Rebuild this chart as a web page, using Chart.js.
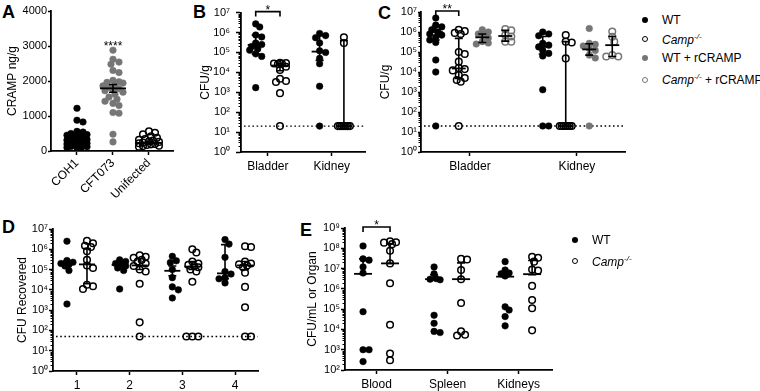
<!DOCTYPE html>
<html>
<head>
<meta charset="utf-8">
<script src="https://cdn.jsdelivr.net/npm/chart.js@4.4.0/dist/chart.umd.min.js"></script>
<style>
  body { margin: 0; background: #fff; width: 760px; height: 391px; position: relative; overflow: hidden;
         font-family: "Liberation Sans", Arial, Helvetica, sans-serif; color: #000; }
  canvas { position: absolute; }
  .letter { position: absolute; font-weight: bold; font-size: 18px; line-height: 18px; }
  .lg { position: absolute; font-size: 12px; line-height: 14px; height: 14px; white-space: nowrap; }
  .lg sup { font-size: 8px; vertical-align: 5px; line-height: 0; }
  .mk { position: absolute; width: 6px; height: 6px; border-radius: 50%; box-sizing: border-box; }
</style>
</head>
<body>
<div class="letter" style="left:2px;top:3px">A</div>
<div class="letter" style="left:193px;top:3px">B</div>
<div class="letter" style="left:378px;top:4px">C</div>
<div class="letter" style="left:2px;top:218px">D</div>
<div class="letter" style="left:300px;top:221px">E</div>

<canvas id="chartA" width="180" height="215" style="left:0;top:0"></canvas>
<canvas id="chartB" width="185" height="195" style="left:185px;top:0"></canvas>
<canvas id="chartC" width="258" height="195" style="left:372px;top:0"></canvas>
<canvas id="chartD" width="265" height="196" style="left:0;top:195px"></canvas>
<canvas id="chartE" width="270" height="196" style="left:290px;top:195px"></canvas>

<!-- legend C -->
<div class="mk" style="left:642px;top:17px;background:#000"></div>
<div class="lg" style="left:662px;top:13px">WT</div>
<div class="mk" style="left:642px;top:36px;border:1.5px solid #000"></div>
<div class="lg" style="left:662px;top:33px"><i>Camp<sup>-/-</sup></i></div>
<div class="mk" style="left:642px;top:55px;background:#767676"></div>
<div class="lg" style="left:662px;top:51px">WT + rCRAMP</div>
<div class="mk" style="left:642px;top:77px;border:1.5px solid #767676"></div>
<div class="lg" style="left:662px;top:73px"><i>Camp<sup>-/-</sup></i> + rCRAMP</div>

<!-- legend E -->
<div class="mk" style="left:572px;top:237px;background:#000"></div>
<div class="lg" style="left:592px;top:233px">WT</div>
<div class="mk" style="left:572px;top:258px;border:1.5px solid #000"></div>
<div class="lg" style="left:592px;top:255px"><i>Camp<sup>-/-</sup></i></div>

<script>
// ---- A: CRAMP ng/g ----
const aCategories = ['COH1', 'CFT073', 'Unifected'];
const aCoh1 = [1220, 880, 830, 560, 540, 500, 470, 450, 420, 400, 380, 350, 330, 310, 300, 280, 260, 240, 220, 200, 180, 170, 150, 130, 120, 100, 90, 80];
const aCft073 = [2880, 2620, 2540, 2480, 2300, 2240, 2020, 1980, 1960, 1940, 1900, 1860, 1820, 1780, 1760, 1720, 1680, 1620, 1540, 1480, 1420, 1360, 1300, 1100, 1080, 480, 260];
const aUninfected = [560, 520, 480, 420, 380, 340, 320, 300, 280, 260, 240, 220, 200, 190, 170, 150, 140, 120];
const aMedians = [330, 1790, 230];
const aRanges = [[280, 390], [1680, 1900], [200, 270]];
const aTicks = [0, 1000, 2000, 3000, 4000];

// ---- B: CFU/g ----
const bCategories = ['Bladder', 'Kidney'];
const bWt = [[2.7e6, 1.9e6, 7.5e5, 6e5, 3e5, 2.5e5, 2e5, 1.5e5, 1.3e5, 8.5e4, 6.3e4, 1.7e3],
             [9e5, 7e5, 5.5e5, 3e5, 1.2e5, 1e5, 5e4, 2.7e4, 2e3, 20]];
const bCamp = [[3e4, 2.9e4, 2.8e4, 2.7e4, 2.6e4, 1.9e4, 1.3e4, 4.8e3, 3.7e3, 3.3e3, 9e2, 20],
               [5.8e5, 3e5, 20, 20, 20, 20, 20, 20, 20]];
const bWtMedian = [2.4e5, 1.1e5];
const bCampMedian = [2.2e4, 20];
const bWtRange = [[8.5e4, 7.4e5], [4e4, 7e5]];
const bCampRange = [[1.2e4, 2.8e4], [20, 4e5]];
const bTicks = [1, 10, 1e2, 1e3, 1e4, 1e5, 1e6, 1e7];

// ---- C: CFU/g with rCRAMP ----
const cCategories = ['Bladder', 'Kidney'];
const cWt = [[5e6, 2.2e6, 1.8e6, 1.3e6, 1e6, 8e5, 7e5, 5.5e5, 4e5, 3e5, 4e4, 1e4, 20],
             [1e6, 8e5, 6.5e5, 2.7e5, 2.2e5, 1.8e5, 1.2e5, 8.5e4, 6.3e4, 1.3e3, 20, 20]];
const cCamp = [[1.3e6, 1.1e6, 9e5, 8e5, 1e5, 8e4, 3.3e4, 1.6e4, 1.4e4, 1.2e4, 7e3, 5e3, 4e3, 3.3e3, 20],
               [7e5, 3.3e5, 3e5, 4.8e4, 20, 20, 20, 20, 20, 20, 20]];
const cWtR = [[1.3e6, 1e6, 8e5, 7e5, 5e5, 3.3e5, 2.8e5, 2.5e5],
              [1.5e6, 2.7e5, 2.4e5, 2e5, 1.5e5, 1.2e5, 7e4, 5e4, 20]];
const cCampR = [[1.4e6, 1.2e6, 7e5, 6e5, 3.3e5, 3.3e5],
                [1.05e6, 5.8e5, 3.3e5, 7e4, 6e4, 6e4]];
const cWtMedian = [1e6, 1.8e5];
const cCampMedian = [1.5e4, 20];
const cWtRMedian = [5.4e5, 1.35e5];
const cCampRMedian = [6.3e5, 2.2e5];
const cWtRange = [[4e5, 2e6], [8e4, 6e5]];
const cCampRange = [[4.8e3, 4.8e5], [20, 3.3e5]];
const cWtRRange = [[3e5, 8e5], [7e4, 2.6e5]];
const cCampRRange = [[3.5e5, 1.2e6], [6e4, 6e5]];

// ---- D: CFU Recovered ----
const dCategories = ['1', '2', '3', '4'];
const dWt = [[2.5e6, 2.8e5, 2.3e5, 2e5, 1.8e5, 1.5e5, 9e4, 2e3],
             [3e5, 2.5e5, 2e5, 1.8e5, 1.5e5, 1.2e5, 9e4, 1.1e4],
             [4.5e5, 2.7e5, 2.2e5, 1e5, 4e4, 1.4e4, 1e4, 4e3],
             [3e6, 1.8e6, 4e5, 8e4, 6e4, 4e4, 3.5e4, 2.2e4]];
const dCamp = [[2.6e6, 2e6, 1.5e6, 1.3e6, 8e5, 3e5, 1.6e5, 1.2e5, 1.8e4, 1.5e4, 1.1e4],
               [5e5, 4.3e5, 3.8e5, 3e5, 2.5e5, 2e5, 1.5e5, 1e5, 8e4, 2e4, 250, 50],
               [1e6, 7e5, 2.5e5, 2e5, 1.7e5, 1.5e5, 1.3e5, 1e5, 8e4, 2.5e4, 50, 50, 50],
               [1.4e6, 1.3e6, 2.5e5, 2e5, 1.8e5, 1.6e5, 1.3e5, 7e4, 1.4e4, 1.4e3, 50, 50]];
const dWtMedian = [2e5, 1.7e5, 8.7e4, 6.5e4];
const dCampMedian = [1.8e5, 1.6e5, 1.4e5, 1.6e5];
const dWtRange = [[1.4e5, 2.6e5], [1.2e5, 2.4e5], [5e4, 1.5e5], [3.5e4, 1.7e6]];
const dCampRange = [[2e4, 1.1e6], [1e5, 3.5e5], [1e5, 2.5e5], [1e5, 2.5e5]];

// ---- E: CFU/mL or Organ ----
const eCategories = ['Blood', 'Spleen', 'Kidneys'];
const eWt = [[1.3e8, 3e7, 2.6e7, 1.2e7, 6e6, 7.5e4, 1e3, 1e3, 2.6e2],
             [1.2e7, 5.5e6, 3.2e6, 3e6, 2.8e6, 5e4, 2e4, 8e3, 7e3],
             [2.2e7, 8.5e6, 6e6, 5.5e6, 4.3e6, 1.3e5, 9e4, 4.3e4, 1.5e4]];
const eCamp = [[2.2e8, 2e8, 1.9e8, 1.6e8, 7.5e7, 1.8e7, 1.9e6, 1.7e4, 6.5e2, 3e2],
               [3e7, 2.8e7, 8.5e6, 3e6, 2e5, 8e3, 5.5e3, 5e3],
               [3.8e7, 3.4e7, 2.2e7, 9e6, 8e6, 1.4e6, 2.8e5, 1.1e5, 9e3]];
const eWtMedian = [5.5e6, 3e6, 4e6];
const eCampMedian = [1.8e7, 3e6, 5.3e6];
const eWtRange = [[5.5e6, 3e7], [2.8e6, 5e6], [4e6, 6e6]];
const eCampRange = [[1.8e7, 1.7e8], [3e6, 1.9e7], [5e6, 2.5e7]];
const eTicks = [1e2, 1e3, 1e4, 1e5, 1e6, 1e7, 1e8, 1e9];

Chart.defaults.font.family = '"Liberation Sans", Arial, Helvetica, sans-serif';
Chart.defaults.color = '#000';
Chart.defaults.animation = false;

const BLACK = '#000';
const GREY = '#767676';
const SUP = '⁰¹²³⁴⁵⁶⁷⁸⁹';
const pow10 = v => '10' + String(Math.round(Math.log10(v))).split('').map(d => SUP[d]).join('');

// medians, error bars, LOD line, brackets, minor ticks
const extras = {
  id: 'extras',
  beforeDatasetsDraw(chart, args, opts) {
    if (!opts.lod) return;
    const { ctx, chartArea, scales: { y } } = chart;
    const py = y.getPixelForValue(opts.lod);
    ctx.save();
    ctx.strokeStyle = '#000';
    ctx.lineWidth = 1.4;
    ctx.setLineDash([1.6, 2.6]);
    ctx.beginPath();
    ctx.moveTo(chartArea.left + 3, py);
    ctx.lineTo(chartArea.right, py);
    ctx.stroke();
    ctx.restore();
  },
  afterDatasetsDraw(chart, args, opts) {
    const { ctx, scales: { x, y } } = chart;
    ctx.save();
    ctx.strokeStyle = '#000';
    chart.data.datasets.forEach(ds => {
      ds.medians.forEach((m, c) => {
        if (m == null) return;
        const cx = x.getPixelForValue(c + 1 + ds.offset);
        const [lo, hi] = ds.ranges[c];
        const ylo = y.getPixelForValue(lo), yhi = y.getPixelForValue(hi);
        ctx.lineWidth = 1.6;
        ctx.beginPath();
        ctx.moveTo(cx, ylo); ctx.lineTo(cx, yhi);
        ctx.moveTo(cx - opts.cap, yhi); ctx.lineTo(cx + opts.cap, yhi);
        ctx.moveTo(cx - opts.cap, ylo); ctx.lineTo(cx + opts.cap, ylo);
        ctx.stroke();
        const ym = y.getPixelForValue(m);
        ctx.lineWidth = 1.8;
        ctx.beginPath();
        ctx.moveTo(cx - opts.half, ym); ctx.lineTo(cx + opts.half, ym);
        ctx.stroke();
      });
    });
    ctx.restore();
  },
  afterDraw(chart, args, opts) {
    const { ctx, chartArea, scales: { x, y } } = chart;
    ctx.save();
    ctx.strokeStyle = '#000';
    ctx.fillStyle = '#000';
    if (opts.minor) {
      ctx.lineWidth = 1;
      const p0 = Math.round(Math.log10(y.min)), p1 = Math.round(Math.log10(y.max));
      ctx.beginPath();
      for (let p = p0; p < p1; p++) {
        for (let k = 2; k <= 9; k++) {
          const py = Math.round(y.getPixelForValue(k * 10 ** p)) + 0.5;
          ctx.moveTo(chartArea.left - 2.5, py);
          ctx.lineTo(chartArea.left, py);
        }
      }
      ctx.stroke();
    }
    if (opts.bracket) {
      const b = opts.bracket;
      const x1 = x.getPixelForValue(b.x1), x2 = x.getPixelForValue(b.x2);
      const top = chartArea.top - 1;
      ctx.lineWidth = 1.6;
      ctx.beginPath();
      ctx.moveTo(x1, top + 5); ctx.lineTo(x1, top); ctx.lineTo(x2, top); ctx.lineTo(x2, top + 5);
      ctx.stroke();
      ctx.font = '12px "Liberation Sans", Arial, sans-serif';
      ctx.textAlign = 'center';
      ctx.textBaseline = 'alphabetic';
      ctx.fillText(b.text, (x1 + x2) / 2, top + 2);
    }
    if (opts.star) {
      ctx.font = '12px "Liberation Sans", Arial, sans-serif';
      ctx.textAlign = 'center';
      ctx.textBaseline = 'alphabetic';
      ctx.fillText(opts.star.text, x.getPixelForValue(opts.star.x), y.getPixelForValue(opts.star.y));
    }
    ctx.restore();
  }
};

function swarmOffsets(pys, maxHalf) {
  const order = pys.map((_, i) => i).sort((a, b) => pys[a] - pys[b]);
  const placed = [], out = [];
  order.forEach(i => {
    let best = 0, bestGap = -1;
    for (let k = 0; ; k++) {
      const dx = (k % 2 ? 1 : -1) * Math.ceil(k / 2) * 2;
      if (Math.abs(dx) > maxHalf) break;
      const gap = placed.reduce((g, p) => Math.min(g, Math.hypot(p.x - dx, p.y - pys[i])), Infinity);
      if (gap > bestGap) { best = dx; bestGap = gap; }
      if (gap >= 5) break;
    }
    placed.push({ x: best, y: pys[i] });
    out[i] = best;
  });
  return out;
}

function dotPlot(id, o) {
  const datasets = o.groups.map(g => ({
    data: g.values.flatMap((vals, c) => vals.map(v => ({ x: c + 1 + g.offset, y: v, c }))),
    pointRadius: 3.3,
    pointHoverRadius: 3.3,
    pointBackgroundColor: g.open ? 'rgba(0,0,0,0)' : g.color,
    pointBorderColor: g.color,
    pointBorderWidth: g.open ? 1.5 : 0.5,
    medians: g.medians,
    ranges: g.ranges,
    offset: g.offset,
  }));
  const yScale = o.log ? {
    type: 'logarithmic', min: o.yTicks[0], max: o.yTicks[o.yTicks.length - 1],
    afterBuildTicks: s => { s.ticks = o.yTicks.map(v => ({ value: v })); },
    ticks: { callback: v => pow10(v), font: { size: 11 }, padding: o.yPad },
  } : {
    type: 'linear', min: o.yTicks[0], max: o.yTicks[o.yTicks.length - 1],
    afterBuildTicks: s => { s.ticks = o.yTicks.map(v => ({ value: v })); },
    ticks: { callback: v => String(v), font: { size: 11 }, padding: o.yPad },
  };
  Object.assign(yScale, {
    grid: { drawOnChartArea: false, tickLength: o.yTickLen, tickColor: '#000', tickWidth: 1.5 },
    border: { color: '#000', width: 1.8 },
    title: { display: true, text: o.yTitle, font: { size: 12 }, padding: { top: o.titlePad, bottom: 0 } },
    afterFit: s => { s.width = o.yWidth; },
  });
  const chart = new Chart(document.getElementById(id), {
    type: 'scatter',
    data: { datasets },
    options: {
      responsive: false,
      devicePixelRatio: 1,
      layout: { padding: { top: o.padTop, right: o.padRight, left: 0, bottom: 0 } },
      scales: {
        x: {
          type: 'linear', min: o.xMin, max: o.xMax,
          afterBuildTicks: s => { s.ticks = o.categories.map((_, i) => ({ value: i + 1 })); },
          ticks: { callback: (v, i) => o.categories[i], font: { size: 12 }, padding: o.xPad,
                   minRotation: o.xRot || 0, maxRotation: o.xRot || 0, autoSkip: false },
          grid: { drawOnChartArea: false, tickLength: 4, tickColor: '#000', tickWidth: 1.5 },
          border: { color: '#000', width: 1.8 },
          afterFit: s => { s.height = o.xHeight; },
        },
        y: yScale,
      },
      plugins: {
        legend: { display: false },
        tooltip: { enabled: false },
        extras: o.extras,
      },
    },
    plugins: [extras],
  });
  // spread points of each group sideways using the chart's own scales
  const { x, y } = chart.scales;
  const unit = x.getPixelForValue(1) - x.getPixelForValue(0);
  chart.data.datasets.forEach(ds => {
    const byCat = {};
    ds.data.forEach(p => { (byCat[p.c] = byCat[p.c] || []).push(p); });
    Object.values(byCat).forEach(pts => {
      const offs = swarmOffsets(pts.map(p => y.getPixelForValue(p.y)), o.maxHalf);
      pts.forEach((p, i) => { p.x = p.c + 1 + ds.offset + offs[i] / unit; });
    });
  });
  chart.update('none');
  return chart;
}

dotPlot('chartA', {
  categories: aCategories, log: false, yTicks: aTicks, yTitle: 'CRAMP ng/g',
  xMin: 0.278, xMax: 3.667, xRot: 45, xPad: 1, xHeight: 64,
  yWidth: 51, yPad: 1, yTickLen: 3, titlePad: 5, padTop: 11, padRight: 7, maxHalf: 10,
  groups: [
    { values: [aCoh1, [], []], medians: [aMedians[0], null, null], ranges: [aRanges[0]], offset: 0, color: BLACK },
    { values: [[], aCft073, []], medians: [null, aMedians[1], null], ranges: [null, aRanges[1]], offset: 0, color: GREY },
    { values: [[], [], aUninfected], medians: [null, null, aMedians[2]], ranges: [null, null, aRanges[2]], offset: 0, color: BLACK, open: true },
  ],
  extras: { cap: 4, half: 13, star: { text: '****', x: 2, y: 2900 } },
});

dotPlot('chartB', {
  categories: bCategories, log: true, yTicks: bTicks, yTitle: 'CFU/g',
  xMin: 0.58, xMax: 2.52, xPad: 3, xHeight: 43,
  yWidth: 56, yPad: 6, yTickLen: 5, titlePad: 13, padTop: 12, padRight: 5, maxHalf: 7,
  groups: [
    { values: bWt, medians: bWtMedian, ranges: bWtRange, offset: -0.19, color: BLACK },
    { values: bCamp, medians: bCampMedian, ranges: bCampRange, offset: 0.19, color: BLACK, open: true },
  ],
  extras: { cap: 4, half: 8, lod: 20, minor: true, bracket: { x1: 0.81, x2: 1.19, text: '*' } },
});

dotPlot('chartC', {
  categories: cCategories, log: true, yTicks: bTicks, yTitle: 'CFU/g',
  xMin: 0.542, xMax: 2.449, xPad: 3, xHeight: 43,
  yWidth: 49, yPad: 1, yTickLen: 3, titlePad: 6, padTop: 12, padRight: 5, maxHalf: 7,
  groups: [
    { values: cWt, medians: cWtMedian, ranges: cWtRange, offset: -0.32, color: BLACK },
    { values: cCamp, medians: cCampMedian, ranges: cCampRange, offset: -0.105, color: BLACK, open: true },
    { values: cWtR, medians: cWtRMedian, ranges: cWtRRange, offset: 0.115, color: GREY },
    { values: cCampR, medians: cCampRMedian, ranges: cCampRRange, offset: 0.33, color: GREY, open: true },
  ],
  extras: { cap: 4, half: 7, lod: 20, minor: true, bracket: { x1: 0.68, x2: 0.895, text: '**' } },
});

dotPlot('chartD', {
  categories: dCategories, log: true, yTicks: bTicks, yTitle: 'CFU Recovered',
  xMin: 0.545, xMax: 4.436, xPad: 3, xHeight: 20,
  yWidth: 53, yPad: 1, yTickLen: 4, titlePad: 15, padTop: 34, padRight: 7, maxHalf: 7,
  groups: [
    { values: dWt, medians: dWtMedian, ranges: dWtRange, offset: -0.19, color: BLACK },
    { values: dCamp, medians: dCampMedian, ranges: dCampRange, offset: 0.19, color: BLACK, open: true },
  ],
  extras: { cap: 4, half: 8, lod: 50, minor: true },
});

dotPlot('chartE', {
  categories: eCategories, log: true, yTicks: eTicks, yTitle: 'CFU/mL or Organ',
  xMin: 0.556, xMax: 3.47, xPad: 3, xHeight: 21,
  yWidth: 55, yPad: 1, yTickLen: 4, titlePad: 15, padTop: 33, padRight: 8, maxHalf: 7,
  groups: [
    { values: eWt, medians: eWtMedian, ranges: eWtRange, offset: -0.19, color: BLACK },
    { values: eCamp, medians: eCampMedian, ranges: eCampRange, offset: 0.19, color: BLACK, open: true },
  ],
  extras: { cap: 4, half: 9, minor: true, bracket: { x1: 0.81, x2: 1.19, text: '*' } },
});
</script>
</body>
</html>
